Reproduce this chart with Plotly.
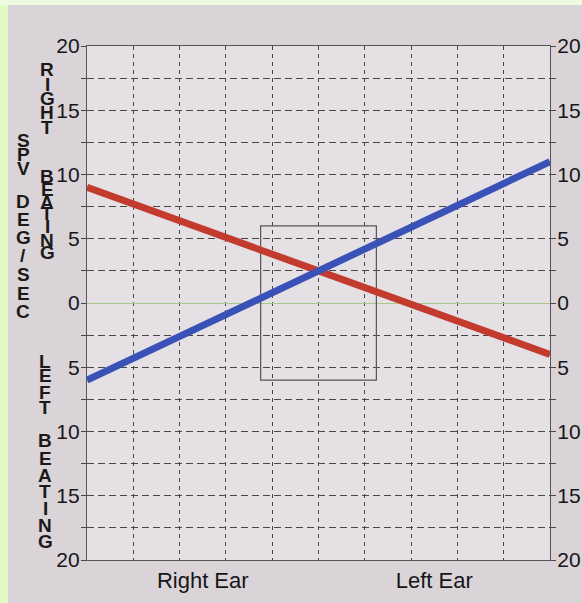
import plotly.graph_objects as go

# ---- data ----
x_pos = [0, 10]
red_series = [9, -4]      # red line (SPV, deg/sec; + = right beating)
blue_series = [-6, 11]    # blue line
y_tick_vals = [-20, -15, -10, -5, 0, 5, 10, 15, 20]
y_tick_text = ["20", "15", "10", "5", "0", "5", "10", "15", "20"]
y_minor_vals = [-17.5, -12.5, -7.5, -2.5, 2.5, 7.5, 12.5, 17.5]
x_tick_vals = [2.5, 7.5]
x_tick_text = ["Right Ear", "Left Ear"]
x_grid_vals = [1, 2, 3, 4, 5, 6, 7, 8, 9]
box_x = [3.75, 6.25]
box_y = [-6, 6]

W, H = 582, 603
ML, MR, MT, MB = 87, 32, 46, 43
PW, PH = W - ML - MR, H - MT - MB

def px_x(px):
    return (px - ML) / PW

def px_y(py):
    return (H - MB - py) / PH

GRID = "#474747"
FONT = "Liberation Sans, Arial, sans-serif"
PLOTBG = "#e4e0e4"

fig = go.Figure()
fig.add_trace(go.Scatter(x=x_pos, y=red_series, mode="lines",
                         line=dict(color="#c33a2f", width=7), showlegend=False))
fig.add_trace(go.Scatter(x=x_pos, y=blue_series, mode="lines",
                         line=dict(color="#3a52b8", width=7), showlegend=False))
fig.add_trace(go.Scatter(x=x_pos, y=blue_series, mode="lines", yaxis="y2",
                         line=dict(width=0), opacity=0, hoverinfo="skip",
                         showlegend=False))

def yaxis_cfg(side, grid):
    return dict(
        side=side, automargin=False,
        range=[-20, 20], tickmode="array", tickvals=y_tick_vals, ticktext=y_tick_text,
        ticks="outside", ticklen=5, tickcolor=GRID, tickwidth=1,
        ticklabelstandoff=-3,
        showgrid=grid, gridcolor=GRID, gridwidth=1, griddash="7px,4px",
        zeroline=grid, zerolinecolor="#a9c98c", zerolinewidth=1,
        showline=True, linecolor="#555", linewidth=1.2,
        tickfont=dict(family=FONT, size=21, color="#161616"),
        minor=dict(tickmode="array", tickvals=y_minor_vals, ticks="outside", ticklen=5,
                   tickcolor=GRID, showgrid=grid, gridcolor=GRID, griddash="7px,4px",
                   gridwidth=1),
        fixedrange=True,
    )

fig.update_layout(
    width=W, height=H,
    margin=dict(l=ML, r=MR, t=MT, b=MB, autoexpand=False),
    paper_bgcolor="#dad4d9",
    plot_bgcolor=PLOTBG,
    showlegend=False,
    xaxis=dict(range=[0, 10], automargin=False, tickmode="array", tickvals=x_tick_vals,
               ticktext=x_tick_text, ticks="", showgrid=False, zeroline=False,
               showline=True, mirror=True, linecolor="#555", linewidth=1.2,
               tickfont=dict(family=FONT, size=22, color="#161616"),
               minor=dict(tickmode="array", tickvals=x_grid_vals, showgrid=True,
                          gridcolor=GRID, gridwidth=1, griddash="4px,4px", ticks=""),
               fixedrange=True),
    yaxis=yaxis_cfg("left", True),
    yaxis2=dict(overlaying="y", **yaxis_cfg("right", False)),
)

# central box
fig.add_shape(type="rect", xref="x", yref="y", x0=box_x[0], x1=box_x[1],
              y0=box_y[0], y1=box_y[1], line=dict(color="#555", width=1.2),
              fillcolor="rgba(0,0,0,0)", layer="between")
# green photo edges
fig.add_shape(type="rect", xref="paper", yref="paper", x0=px_x(0), x1=px_x(8),
              y0=px_y(H), y1=px_y(0), line=dict(width=0), fillcolor="#e2f9c4")
fig.add_shape(type="rect", xref="paper", yref="paper", x0=px_x(0), x1=px_x(W),
              y0=px_y(5), y1=px_y(0), line=dict(width=0), fillcolor="#eefbe0")

# stacked vertical labels
def stack(text, x_px, centers):
    letters = [c for c in text if c != " "]
    for ch, cy in zip(letters, centers):
        fig.add_annotation(text="<b>" + ch + "</b>", xref="paper", yref="paper",
                           x=px_x(x_px), y=px_y(cy),
                           showarrow=False, xanchor="center", yanchor="middle",
                           font=dict(family=FONT, size=19, color="#1a1a1a"))

stack("SPV", 23, [140, 154, 168])
stack("DEG/SEC", 23, [201, 219, 237, 255, 274, 293, 312])
stack("RIGHT", 47, [70, 85, 99, 113, 127])
stack("BEATING", 47, [176, 189, 202, 214, 227, 240, 252])
stack("LEFT", 45, [361, 376, 392, 407])
stack("BEATING", 45, [441, 458, 475, 491, 508, 525, 541])

fig.write_html("out.html", config={"displayModeBar": False},
               post_script="document.body.style.margin='0';")
